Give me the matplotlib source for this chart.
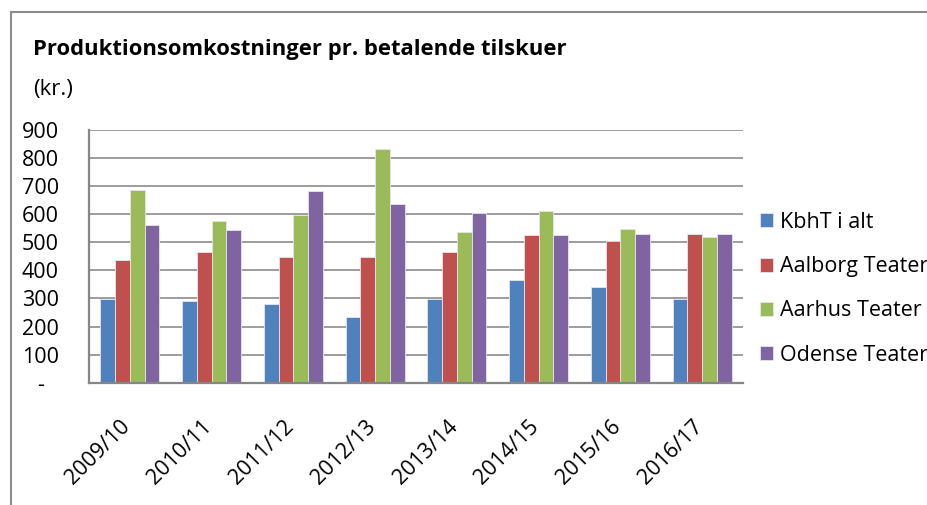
import numpy as np
import matplotlib
matplotlib.use("Agg")
import matplotlib.pyplot as plt
from matplotlib.patches import Rectangle

plt.rcParams['font.family'] = ['Open Sans', 'DejaVu Sans']

# data (kr. per paying spectator)
seasons = ['2009/10', '2010/11', '2011/12', '2012/13',
           '2013/14', '2014/15', '2015/16', '2016/17']
kbht = [298, 292, 281, 235, 298, 365, 341, 298]
aalborg = [436, 465, 446, 449, 467, 525, 503, 531]
aarhus = [685, 576, 596, 833, 538, 610, 547, 519]
odense = [560, 544, 683, 637, 603, 527, 531, 528]

series = [('KbhT i alt', kbht, '#4F81BD'),
          ('Aalborg Teater', aalborg, '#C0504D'),
          ('Aarhus Teater', aarhus, '#9BBB59'),
          ('Odense Teater', odense, '#8064A2')]

yticks = [0, 100, 200, 300, 400, 500, 600, 700, 800, 900]
ytick_labels = ['-', '100', '200', '300', '400', '500', '600', '700', '800', '900']

fig = plt.figure(figsize=(9.28, 5.05), dpi=100)
ax = fig.add_axes([89 / 928, 1 - 382.7 / 505, 654 / 928, 252.7 / 505])

x = np.arange(len(seasons))
w = 0.18
for i, (name, vals, col) in enumerate(series):
    ax.bar(x + (i - 1.5) * w, vals, w, color=col, label=name,
           edgecolor='#e6e6f0', linewidth=0.6)

ax.set_xlim(-0.5, len(seasons) - 0.5)
ax.set_ylim(0, 900)
ax.set_yticks(yticks)
ax.set_yticklabels(ytick_labels, fontsize=15.5)
for lbl in ax.get_yticklabels():
    lbl.set_horizontalalignment('center')
ax.tick_params(axis='y', length=0, pad=35)

ax.set_xticks(x + 0.06)
ax.set_xticklabels(seasons, fontsize=15.5, rotation=45, ha='right', va='top')
ax.tick_params(axis='x', length=0, pad=24)

ax.set_axisbelow(True)
ax.grid(axis='y', color='#8c8c8c', linewidth=1.2)
for s in ['top', 'right']:
    ax.spines[s].set_visible(False)
for s in ['left', 'bottom']:
    ax.spines[s].set_color('#868686')
    ax.spines[s].set_linewidth(1.6)

leg = fig.legend(loc='upper left', bbox_to_anchor=(760 / 928, 1 - 212 / 505),
                 frameon=False, fontsize=15.5, handlelength=0.62,
                 handleheight=0.62, handletextpad=0.3, labelspacing=1.08,
                 borderpad=0, borderaxespad=0)

fig.text(33 / 928, 1 - 49 / 505, 'Produktionsomkostninger pr. betalende tilskuer',
         fontsize=15.8, fontweight='bold', va='center', ha='left')
fig.text(33 / 928, 1 - 90 / 505, '(kr.)', fontsize=16, va='center', ha='left')

# chart border (right and bottom edges fall outside the picture)
fig.patches.append(Rectangle((11 / 928, -0.1), 1.2, 1.1 - 12 / 505,
                             transform=fig.transFigure, fill=False,
                             edgecolor='#8c8c8c', linewidth=1.5))

fig.savefig('out.png', dpi=100)
